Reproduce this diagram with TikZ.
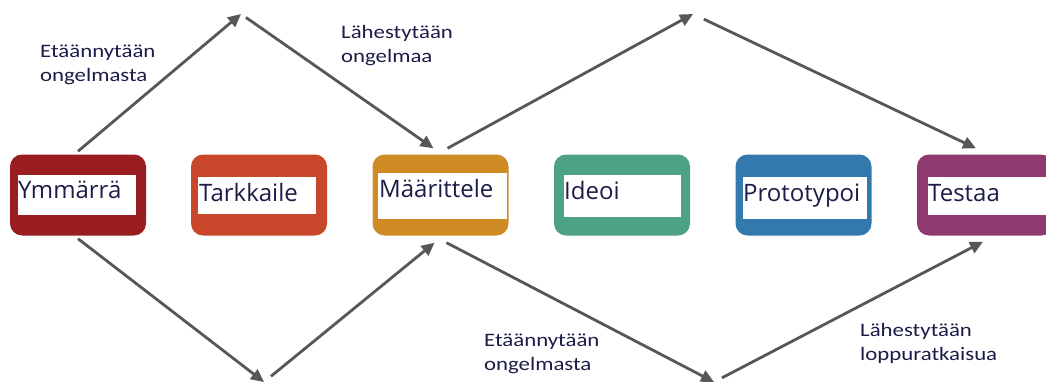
\documentclass[tikz,border=0pt]{standalone}
\usepackage{fontspec}
\setmainfont{Carlito}[FakeStretch=1.2]
\newfontfamily\stagefont{Open Sans}
\usetikzlibrary{arrows.meta}

\definecolor{ink}{HTML}{1C1C48}
\definecolor{arrowgray}{HTML}{575757}
\definecolor{cRed}{HTML}{9A1D21}
\definecolor{cOrange}{HTML}{C8462A}
\definecolor{cGold}{HTML}{D08C24}
\definecolor{cTeal}{HTML}{4CA186}
\definecolor{cBlue}{HTML}{3479AE}
\definecolor{cPurple}{HTML}{8E3A6F}

\begin{document}
\begin{tikzpicture}[x=1pt,y=-1pt,
  stage/.style={fill=#1, rounded corners=12pt, minimum width=136pt,
                minimum height=81pt, inner sep=0pt},
  plate/.style={fill=white, inner sep=0pt, anchor=north west},
  stagelabel/.style={font=\stagefont\fontsize{24}{28}\selectfont, text=ink,
                     anchor=base west, inner sep=0pt},
  note/.style={font=\fontsize{19}{24}\selectfont, text=ink,
               anchor=base west, inner sep=0pt},
  flow/.style={draw=arrowgray, line width=2.8pt,
               -{Triangle[length=13pt,width=12pt]}},
]
\clip (0,0) rectangle (1046,383);
\useasboundingbox (0,0) rectangle (1046,383);

% coloured stage boxes
\node[stage=cRed]    (s1) at (78,195)    {};
\node[stage=cOrange] (s2) at (259,195)   {};
\node[stage=cGold]   (s3) at (440.5,195) {};
\node[stage=cTeal]   (s4) at (622,195)   {};
\node[stage=cBlue]   (s5) at (803.5,195) {};
\node[stage=cPurple] (s6) at (985,195)   {};

% white label plates
\node[plate, minimum width=118pt, minimum height=40pt] (w1) at (18,175)  {};
\node[plate, minimum width=118pt, minimum height=37pt] (w2) at (198,177) {};
\node[plate, minimum width=129pt, minimum height=46pt] (w3) at (378,173) {};
\node[plate, minimum width=117pt, minimum height=42pt] (w4) at (564,175) {};
\node[plate, minimum width=124pt, minimum height=42pt] (w5) at (743,177) {};
\node[plate, minimum width=120pt, minimum height=38pt] (w6) at (928,177) {};

% stage names
\node[stagelabel] (t1) at (18,198)  {Ymmärrä};
\node[stagelabel] (t2) at (199,201) {Tarkkaile};
\node[stagelabel] (t3) at (379,197) {Määrittele};
\node[stagelabel] (t4) at (564,199) {Ideoi};
\node[stagelabel] (t5) at (743,201) {Prototypoi};
\node[stagelabel] (t6) at (928,201) {Testaa};

% turning points of the diverge/converge paths
\coordinate (p1) at (241,14);
\coordinate (p2) at (693,14);
\coordinate (v1) at (264,382);
\coordinate (v2) at (714,382);

% upper zig-zag
\draw[flow] ([yshift=3pt]s1.north) -- (p1);
\draw[flow, shorten <=6pt] (p1) -- ([xshift=-7pt,yshift=6pt]s3.north);
\draw[flow] ([xshift=7pt,yshift=6pt]s3.north) -- (p2);
\draw[flow, shorten <=12pt] (p2) -- ([xshift=-9pt,yshift=6pt]s6.north);

% lower zig-zag
\draw[flow] ([yshift=-3pt]s1.south) -- (v1);
\draw[flow, shorten <=9pt] (v1) -- ([xshift=-6pt,yshift=-7pt]s3.south);
\draw[flow] ([xshift=6pt,yshift=-7pt]s3.south) -- (v2);
\draw[flow, shorten <=9pt] (v2) -- ([xshift=-2pt,yshift=-6pt]s6.south);

% path labels
\node[note] (n1a) at (40,57)  {Etäännytään};
\node[note] (n1b) at (40,81)  {ongelmasta};
\node[note] (n2a) at (341,38) {Lähestytään};
\node[note] (n2b) at (341,62) {ongelmaa};
\node[note] (n3a) at (484,346) {Etäännytään};
\node[note] (n3b) at (484,370) {ongelmasta};
\node[note] (n4a) at (860,336) {Lähestytään};
\node[note] (n4b) at (860,360) {loppuratkaisua};
\end{tikzpicture}
\end{document}
